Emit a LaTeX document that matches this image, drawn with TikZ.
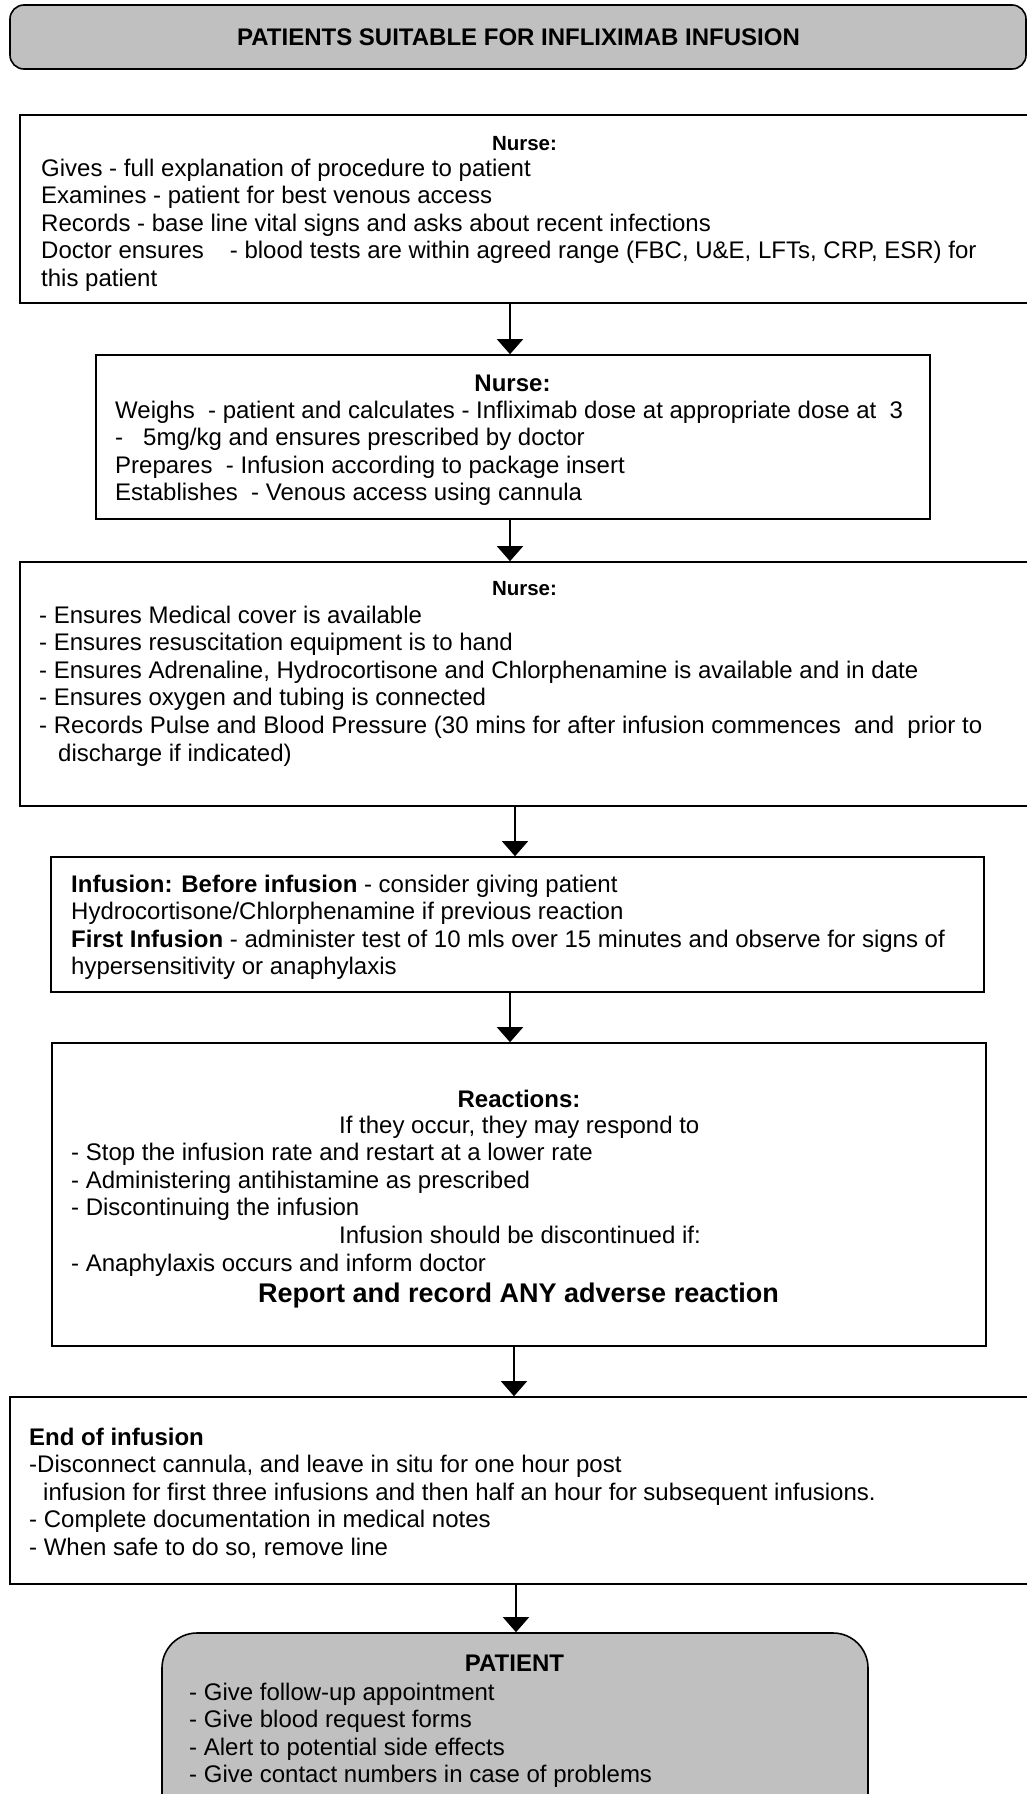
\documentclass[tikz,border=0pt]{standalone}
\usepackage{fontspec}
\setmainfont{Liberation Sans}
\usetikzlibrary{arrows.meta}
\definecolor{fillgray}{HTML}{C0C0C0}
\begin{document}
\begin{tikzpicture}[x=1pt,y=-1pt,
  box/.style={draw=black, line width=1.6pt, fill=white, inner sep=0pt, rectangle},
  gbox/.style={box, fill=fillgray},
  txt/.style={inner sep=0pt, anchor=base west, align=left, font=\fontsize{24}{27.6}\selectfont},
  head/.style={inner sep=0pt, anchor=base, font=\fontsize{24}{27.6}\selectfont\bfseries},
  smallhead/.style={inner sep=0pt, anchor=base, font=\fontsize{20.5}{24}\selectfont\bfseries},
  arr/.style={line width=1.3pt, -{Triangle[width=26pt,length=15pt]}}]
\fill[white] (0,0) rectangle (1027,1794);
\useasboundingbox (0,0) rectangle (1027,1794);

% boxes
\node[gbox, rounded corners=14pt, minimum width=1016pt, minimum height=64pt] (title) at (518,37) {};
\node[box, minimum width=1012pt, minimum height=188pt] (b1) at (526,209) {};
\node[box, minimum width=834pt, minimum height=164pt] (b2) at (513,437) {};
\node[box, minimum width=1012pt, minimum height=244pt] (b3) at (526,684) {};
\node[box, minimum width=933pt, minimum height=135pt] (b4) at (517.5,924.5) {};
\node[box, minimum width=934pt, minimum height=303pt] (b5) at (519,1194.5) {};
\node[box, minimum width=1022pt, minimum height=187pt] (b6) at (521,1490.5) {};
\node[gbox, rounded corners=35pt, minimum width=706pt, minimum height=220pt] (pt) at (515,1743) {};

% title
\node[head] (titletext) at (518.5,45) {PATIENTS SUITABLE FOR INFLIXIMAB INFUSION};

% box 1 (anchor = baseline of last line)
\node[smallhead] (h1) at (524.5,150) {Nurse:};
\node[txt] (t1) at (41,286.4) {Gives - full explanation of procedure to patient\\
Examines - patient for best venous access\\
Records - base line vital signs and asks about recent infections\\
Doctor ensures\hspace{26pt}- blood tests are within agreed range (FBC, U\&E, LFTs, CRP, ESR) for\\
this patient};

% box 2
\node[head] (h2) at (512.5,391) {Nurse:};
\node[txt] (t2) at (115,500.8) {Weighs\ \ - patient and calculates - Infliximab dose at appropriate dose at\ \ 3\\
-\ \ \ 5mg/kg and ensures prescribed by doctor\\
Prepares\ \ - Infusion according to package insert\\
Establishes\ \ - Venous access using cannula};

% box 3
\node[smallhead] (h3) at (524.5,595) {Nurse:};
\node[txt] (t3) at (39,761) {- Ensures Medical cover is available\\
- Ensures resuscitation equipment is to hand\\
- Ensures Adrenaline, Hydrocortisone and Chlorphenamine is available and in date\\
- Ensures oxygen and tubing is connected\\
- Records Pulse and Blood Pressure (30 mins for after infusion commences\ \ and\ \ prior to\\
\hspace*{19pt}discharge if indicated)};

% box 4
\node[txt] (t4) at (71,974.8) {\textbf{Infusion: Before infusion} - consider giving patient\\
Hydrocortisone/Chlorphenamine if previous reaction\\
\textbf{First Infusion} - administer test of 10 mls over 15 minutes and observe for signs of\\
hypersensitivity or anaphylaxis};

% box 5
\node[head] (h5) at (519,1107) {Reactions:};
\node[txt] (t5) at (71,1271) {\hspace*{268pt}If they occur, they may respond to\\
- Stop the infusion rate and restart at a lower rate\\
- Administering antihistamine as prescribed\\
- Discontinuing the infusion\\
\hspace*{268pt}Infusion should be discontinued if:\\
- Anaphylaxis occurs and inform doctor};
\node[inner sep=0pt, anchor=base, font=\fontsize{27}{31}\selectfont\bfseries] (rep) at (518.5,1302.5) {Report and record ANY adverse reaction};

% box 6
\node[txt] (t6) at (29,1555.4) {\textbf{End of infusion}\\
-Disconnect cannula, and leave in situ for one hour post\\
\hspace*{14pt}infusion for first three infusions and then half an hour for subsequent infusions.\\
- Complete documentation in medical notes\\
- When safe to do so, remove line};

% patient
\node[head] (h7) at (514.5,1671) {PATIENT};
\node[txt] (t7) at (189,1782.8) {- Give follow-up appointment\\
- Give blood request forms\\
- Alert to potential side effects\\
- Give contact numbers in case of problems};

% arrow x positions
\coordinate (a1) at (510,0);
\coordinate (a2) at (510,0);
\coordinate (a3) at (515,0);
\coordinate (a4) at (510,0);
\coordinate (a5) at (514,0);
\coordinate (a6) at (516,0);
\draw[arr] (b1.south -| a1) -- (b2.north -| a1);
\draw[arr] (b2.south -| a2) -- (b3.north -| a2);
\draw[arr] (b3.south -| a3) -- (b4.north -| a3);
\draw[arr] (b4.south -| a4) -- (b5.north -| a4);
\draw[arr] (b5.south -| a5) -- (b6.north -| a5);
\draw[arr] (b6.south -| a6) -- (pt.north -| a6);
\end{tikzpicture}
\end{document}
